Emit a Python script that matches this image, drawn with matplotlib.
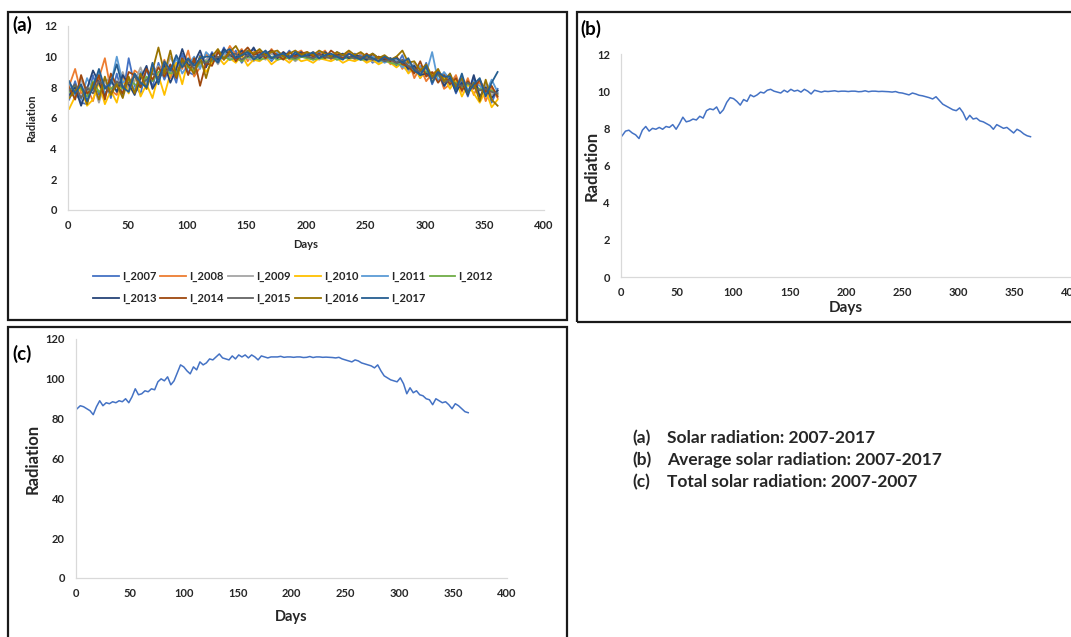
import matplotlib
matplotlib.use("Agg")
import matplotlib.pyplot as plt
from matplotlib.patches import Rectangle

plt.rcParams['font.family'] = ['Lato', 'DejaVu Sans']
plt.rcParams['font.weight'] = 'bold'

# ---------------- data ----------------
days_a = list(range(1, 362, 5))  # 73 points
years = ["I_2007", "I_2008", "I_2009", "I_2010", "I_2011", "I_2012",
         "I_2013", "I_2014", "I_2015", "I_2016", "I_2017"]
colors = ["#4472C4", "#ED7D31", "#A5A5A5", "#FFC000", "#5B9BD5", "#70AD47",
          "#264478", "#9E480E", "#636363", "#997300", "#255E91"]

r2007 = [7.2, 8.4, 7.0, 6.9, 8.8, 7.5, 8.6, 7.3,
         8.9, 7.4, 9.9, 8.1, 7.6, 9.2, 8.0, 9.6,
         8.5, 9.4, 8.3, 10.2, 9.0, 8.8, 10.1, 9.5,
         10.3, 9.7, 10.6, 9.8, 10.4, 9.6, 10.2, 10.5,
         9.8, 10.3, 9.7, 10.2, 9.9, 10.4, 9.8, 10.1,
         10.2, 9.8, 10.3, 10.0, 9.9, 10.3, 10.1, 9.8,
         10.2, 9.9, 10.1, 9.6, 10.0, 9.7, 9.9, 9.4,
         10.1, 9.0, 9.5, 8.6, 9.6, 8.2, 9.1, 8.0,
         8.9, 7.6, 8.5, 7.4, 8.7, 7.2, 8.3, 7.0, 7.9]
r2008 = [8.1, 9.2, 7.6, 8.0, 7.1, 8.6, 9.9, 7.8,
         7.5, 8.7, 8.0, 9.1, 8.8, 7.9, 9.5, 8.7,
         9.8, 8.6, 9.6, 9.2, 10.4, 8.7, 9.3, 10.2,
         9.6, 10.4, 9.9, 10.7, 10.1, 10.5, 9.7, 10.3,
         10.4, 9.9, 10.5, 10.0, 10.3, 9.8, 10.2, 10.4,
         9.9, 10.3, 10.1, 10.4, 9.8, 10.2, 10.0, 10.3,
         9.8, 10.2, 9.7, 10.1, 9.8, 10.0, 9.5, 9.9,
         9.2, 9.8, 8.6, 9.3, 8.4, 8.9, 9.1, 7.9,
         8.2, 8.8, 7.7, 8.6, 7.5, 8.4, 7.1, 8.0, 7.3]
r2009 = [7.9, 7.3, 8.5, 7.7, 8.2, 7.0, 8.3, 8.7,
         8.0, 9.0, 7.8, 8.4, 9.3, 8.2, 8.9, 9.4,
         8.8, 10.0, 9.1, 9.7, 9.3, 9.9, 9.4, 9.8,
         10.1, 9.5, 10.2, 10.0, 9.8, 10.3, 9.9, 9.7,
         10.1, 9.8, 10.2, 9.9, 10.0, 10.1, 9.7, 10.0,
         9.9, 10.1, 9.8, 10.0, 10.1, 9.9, 10.0, 9.9,
         10.0, 9.8, 9.9, 9.7, 9.6, 9.9, 9.7, 9.8,
         9.4, 9.0, 9.6, 8.8, 9.2, 8.5, 8.7, 8.9,
         8.1, 8.6, 7.9, 8.3, 8.0, 7.8, 8.2, 7.5, 7.8]
r2010 = [6.6, 7.4, 8.0, 6.8, 7.2, 8.3, 6.9, 7.8,
         7.0, 8.5, 7.6, 8.9, 7.4, 8.2, 7.3, 8.8,
         7.5, 8.9, 9.6, 8.2, 9.8, 9.1, 9.7, 9.0,
         9.6, 10.0, 9.5, 9.9, 9.6, 10.1, 9.4, 9.8,
         9.7, 10.0, 9.5, 9.8, 9.9, 9.6, 10.0, 9.7,
         9.8, 9.6, 9.9, 9.8, 9.7, 9.9, 9.6, 9.8,
         9.7, 9.9, 9.6, 9.8, 9.5, 9.7, 9.6, 9.3,
         9.6, 8.9, 9.3, 8.6, 9.1, 8.4, 8.8, 8.6,
         7.9, 8.5, 7.4, 8.2, 7.6, 7.0, 7.8, 6.7, 7.2]
r2011 = [8.3, 7.5, 7.2, 8.6, 7.8, 9.0, 7.6, 8.2,
         10.0, 8.3, 8.6, 7.8, 9.0, 8.4, 9.2, 8.5,
         9.3, 9.0, 9.9, 8.9, 9.5, 10.0, 9.2, 10.3,
         9.9, 10.2, 10.4, 9.8, 10.0, 10.2, 10.4, 9.9,
         10.2, 10.0, 9.8, 10.3, 10.1, 9.9, 10.2, 10.0,
         10.1, 9.9, 10.2, 10.0, 10.2, 9.8, 10.1, 10.0,
         9.9, 10.1, 9.8, 10.0, 9.9, 9.6, 9.8, 9.7,
         9.3, 9.6, 9.0, 9.4, 8.9, 10.3, 8.4, 9.0,
         8.5, 8.0, 8.7, 7.8, 8.4, 8.1, 7.6, 8.5, 7.7]
r2012 = [7.7, 8.1, 7.9, 7.4, 8.4, 7.7, 8.0, 7.9,
         8.3, 7.9, 8.5, 8.2, 8.0, 8.7, 8.4, 9.0,
         9.2, 8.9, 9.0, 9.5, 9.3, 9.1, 9.6, 9.7,
         9.7, 9.9, 10.0, 9.8, 9.9, 9.7, 10.0, 9.9,
         9.8, 9.9, 10.0, 9.8, 9.9, 9.9, 9.8, 10.0,
         9.9, 9.8, 9.9, 9.9, 10.0, 9.8, 9.9, 9.9,
         9.9, 9.8, 9.8, 9.9, 9.7, 9.8, 9.6, 9.5,
         9.5, 9.3, 9.0, 9.1, 9.0, 8.7, 8.8, 8.5,
         8.4, 8.3, 8.0, 8.2, 8.1, 7.9, 7.8, 7.8, 7.5]
r2013 = [7.5, 8.0, 6.8, 7.9, 9.1, 8.3, 7.4, 8.5,
         7.7, 8.8, 8.2, 7.5, 8.6, 9.4, 7.9, 8.6,
         9.5, 8.3, 9.2, 10.5, 9.4, 9.6, 10.4, 9.3,
         10.2, 9.8, 10.5, 10.1, 9.9, 10.4, 10.0, 10.6,
         9.9, 10.2, 10.4, 9.9, 10.3, 10.0, 10.1, 10.3,
         10.0, 10.2, 9.9, 10.3, 10.0, 10.1, 10.2, 9.9,
         10.1, 10.0, 9.8, 10.2, 9.9, 9.8, 9.9, 9.6,
         9.7, 9.2, 9.4, 8.8, 8.9, 8.6, 9.0, 8.1,
         8.6, 7.7, 8.3, 7.5, 8.8, 7.4, 8.0, 7.3, 7.8]
r2014 = [8.0, 7.2, 8.8, 7.6, 7.9, 8.8, 7.2, 8.9,
         8.1, 7.6, 9.0, 8.8, 8.0, 9.2, 8.5, 9.3,
         8.7, 9.5, 8.6, 9.9, 8.8, 9.9, 8.1, 9.6,
         9.4, 10.3, 9.8, 10.4, 9.7, 10.2, 10.6, 10.1,
         10.3, 9.9, 10.4, 10.1, 9.8, 10.3, 10.0, 10.2,
         10.3, 10.0, 10.2, 9.9, 10.4, 10.1, 9.9, 10.2,
         10.0, 9.9, 10.2, 9.8, 10.0, 9.9, 9.7, 10.0,
         9.5, 9.4, 8.9, 9.7, 8.7, 9.0, 8.3, 8.8,
         8.2, 8.6, 7.8, 8.4, 7.9, 8.5, 7.7, 8.1, 7.4]
r2015 = [7.8, 8.2, 7.3, 8.0, 7.6, 8.4, 8.1, 7.6,
         8.4, 8.0, 8.3, 8.7, 8.2, 8.5, 8.9, 8.6,
         9.0, 9.2, 8.8, 9.6, 9.8, 9.2, 9.7, 9.6,
         9.8, 10.0, 9.9, 10.1, 10.2, 9.8, 10.1, 10.0,
         10.0, 10.1, 9.9, 10.0, 10.1, 10.0, 9.9, 10.1,
         10.0, 9.9, 10.1, 10.0, 9.9, 10.0, 10.1, 10.0,
         9.9, 10.0, 9.9, 9.8, 9.9, 9.7, 9.8, 9.6,
         9.8, 9.4, 9.2, 9.0, 9.3, 8.6, 8.9, 8.3,
         8.5, 8.2, 8.1, 8.3, 8.0, 7.8, 7.9, 7.7, 7.6]
r2016 = [7.3, 7.8, 8.1, 6.9, 8.3, 7.2, 8.7, 7.5,
         8.2, 7.3, 8.7, 7.6, 8.9, 7.9, 9.1, 10.6,
         8.9, 10.4, 8.7, 9.8, 9.4, 8.9, 10.0, 8.6,
         10.0, 10.5, 9.8, 10.3, 10.7, 10.0, 10.4, 10.2,
         10.5, 10.1, 10.3, 10.4, 10.0, 10.2, 10.4, 10.1,
         10.3, 10.1, 10.4, 10.2, 10.0, 10.3, 10.1, 10.4,
         10.1, 10.3, 10.0, 10.2, 9.9, 10.1, 9.8, 10.0,
         10.4, 9.6, 9.7, 9.1, 9.5, 8.7, 9.2, 8.4,
         8.9, 8.0, 8.6, 7.6, 8.3, 7.1, 8.5, 7.2, 6.8]
r2017 = [8.4, 7.6, 8.2, 7.1, 8.0, 9.2, 7.9, 8.3,
         9.5, 8.0, 7.7, 8.9, 8.3, 8.0, 9.6, 8.2,
         9.7, 9.1, 10.1, 9.3, 9.9, 9.4, 9.9, 10.0,
         10.0, 9.6, 10.3, 10.5, 9.9, 10.1, 10.3, 9.8,
         10.1, 10.4, 9.9, 10.1, 10.2, 9.9, 10.3, 10.0,
         10.1, 10.3, 9.9, 10.1, 10.2, 10.0, 9.8, 10.2,
         10.0, 9.8, 10.1, 9.9, 9.7, 10.0, 9.8, 9.9,
         9.6, 9.9, 9.1, 8.8, 9.4, 8.3, 9.0, 8.7,
         8.7, 7.8, 8.9, 7.6, 8.2, 8.6, 7.4, 8.3, 9.0]
series_a = [r2007, r2008, r2009, r2010, r2011, r2012,
            r2013, r2014, r2015, r2016, r2017]

days_bc = list(range(1, 365, 3))  # 122 points
avg_rad = [7.60, 7.85, 7.90, 7.75, 7.65, 7.45, 7.90, 8.10, 7.85, 8.00,
           7.95, 8.05, 7.95, 8.10, 8.05, 8.20, 7.95, 8.25, 8.60, 8.35,
           8.40, 8.50, 8.45, 8.65, 8.55, 8.95, 9.05, 9.00, 9.15, 8.80,
           9.00, 9.40, 9.65, 9.60, 9.45, 9.25, 9.55, 9.45, 9.80, 9.70,
           9.80, 9.95, 9.90, 10.05, 10.10, 10.00, 9.95, 9.90, 10.05, 9.95,
           10.10, 10.00, 10.05, 9.95, 10.10, 10.00, 9.85, 10.05, 10.00, 9.95,
           10.00, 9.98, 10.00, 10.02, 9.98, 10.00, 10.00, 9.98, 10.00, 10.00,
           9.97, 9.98, 10.02, 9.97, 10.00, 10.00, 9.98, 9.99, 9.98, 9.97,
           9.95, 9.98, 9.92, 9.90, 9.85, 9.80, 9.90, 9.85, 9.78, 9.75,
           9.70, 9.65, 9.58, 9.70, 9.50, 9.30, 9.20, 9.10, 9.00, 8.95,
           9.10, 8.85, 8.45, 8.70, 8.50, 8.55, 8.40, 8.35, 8.25, 8.15,
           7.95, 8.20, 8.10, 8.00, 8.05, 7.90, 7.75, 7.95, 7.85, 7.70,
           7.60, 7.55]
tot_rad = [85, 86.5, 86, 85, 84, 82, 86, 89, 86.5, 88,
           87.5, 88.5, 88, 89, 88.5, 90, 88, 91, 95, 92,
           92.5, 94, 93.5, 95, 94.5, 98.5, 100, 99, 101, 97,
           99, 103, 107, 106, 104, 102.5, 106, 104.5, 108.5, 107,
           108, 110, 109.5, 111, 112.5, 110.5, 110, 109.5, 111.5, 110,
           112, 111, 112, 110.5, 112, 111, 109.5, 111.5, 111, 110.5,
           111, 111, 111, 111.3, 110.8, 111, 111, 110.8, 111, 111,
           110.7, 110.8, 111.2, 110.7, 111, 111, 110.8, 110.9, 110.8, 110.7,
           110.5, 110.8, 110, 109.5, 109, 108.5, 109.5, 109, 108, 107.5,
           107, 106.5, 105.5, 107, 104, 101.5, 100.5, 99.5, 99, 98.5,
           100.5, 97.5, 92.5, 95.5, 93, 94, 92, 91.5, 90, 89.5,
           87, 90, 89, 88, 88.5, 87, 85, 87.5, 86.5, 85,
           83.5, 83]

summary_tags = ["(a)", "(b)", "(c)"]
summary_text = ["Solar radiation: 2007-2017",
                "Average solar radiation: 2007-2017",
                "Total solar radiation: 2007-2007"]

# ---------------- layout helpers ----------------
W, H = 1071, 637
TXT = "#262626"
fig = plt.figure(figsize=(W / 100, H / 100), dpi=100)


def axes_px(left, top, right, bottom):
    return fig.add_axes([left / W, 1 - bottom / H, (right - left) / W, (bottom - top) / H])


def box_px(left, top, right, bottom):
    fig.patches.append(Rectangle((left / W, 1 - bottom / H), (right - left) / W,
                                 (bottom - top) / H, transform=fig.transFigure,
                                 fill=False, edgecolor="#1a1a1a", linewidth=1.6))


def style(ax, fs, box, xlab_px, ylab_px, xfs, yfs):
    left, top, right, bottom = box
    for s in ["top", "right"]:
        ax.spines[s].set_visible(False)
    for s in ["left", "bottom"]:
        ax.spines[s].set_color("#D9D9D9")
        ax.spines[s].set_linewidth(0.9)
    ax.tick_params(axis="x", length=0, labelsize=fs, colors=TXT, pad=7)
    ax.tick_params(axis="y", length=0, labelsize=fs, colors=TXT, pad=8)
    ax.set_xlabel("Days", fontsize=xfs, fontweight="bold", color=TXT, va="center")
    ax.set_ylabel("Radiation", fontsize=yfs, fontweight="bold", color=TXT, va="center")
    ax.xaxis.set_label_coords(0.5, (bottom - xlab_px) / (bottom - top))
    ax.yaxis.set_label_coords((ylab_px - left) / (right - left), 0.5)


box_px(8, 12, 567, 320)
box_px(577, 12, 1075, 322)
box_px(8, 327, 567, 642)

# ---------------- panel (a) ----------------
box_a = (68, 26, 544, 210)
ax_a = axes_px(*box_a)
handles = []
for vals, c, lab in zip(series_a, colors, years):
    h, = ax_a.plot(days_a, vals, color=c, lw=1.3, label=lab)
    handles.append(h)
ax_a.set_xlim(0, 400)
ax_a.set_ylim(0, 12)
ax_a.set_xticks(range(0, 401, 50))
ax_a.set_yticks(range(0, 13, 2))
style(ax_a, 8, box_a, 245, 32, 8, 8)
order = [0, 6, 1, 7, 2, 8, 3, 9, 4, 10, 5]
leg = fig.legend([handles[i] for i in order], [years[i] for i in order],
                 ncol=6, loc="upper left", bbox_to_anchor=(93 / W, 1 - 271 / H),
                 frameon=False, fontsize=8, handlelength=2.3, handletextpad=0.3,
                 columnspacing=0.35, labelspacing=1.0, borderpad=0, borderaxespad=0)
for t in leg.get_texts():
    t.set_color(TXT)
fig.text(12 / W, 1 - 25 / H, "(a)", fontsize=13.5, fontweight="bold", va="center", ha="left")

# ---------------- panel (b) ----------------
box_b = (621, 54, 1071, 277)
ax_b = axes_px(*box_b)
ax_b.plot(days_bc, avg_rad, color="#4472C4", lw=1.1)
ax_b.set_xlim(0, 400)
ax_b.set_ylim(0, 12)
ax_b.set_xticks(range(0, 401, 50))
ax_b.set_yticks(range(0, 13, 2))
style(ax_b, 8, box_b, 308, 592, 11, 12)
fig.text(580 / W, 1 - 29 / H, "(b)", fontsize=13.5, fontweight="bold", va="center", ha="left")

# ---------------- panel (c) ----------------
box_c = (76, 339, 507, 578)
ax_c = axes_px(*box_c)
ax_c.plot(days_bc, tot_rad, color="#4472C4", lw=1.1)
ax_c.set_xlim(0, 400)
ax_c.set_ylim(0, 120)
ax_c.set_xticks(range(0, 401, 50))
ax_c.set_yticks(range(0, 121, 20))
style(ax_c, 8, box_c, 617, 33, 10.5, 12)
fig.text(12 / W, 1 - 354 / H, "(c)", fontsize=13.5, fontweight="bold", va="center", ha="left")

# ---------------- summary text ----------------
for i, (tag, txt) in enumerate(zip(summary_tags, summary_text)):
    y = 1 - (438 + i * 22) / H
    fig.text(632 / W, y, tag, fontsize=12.5, fontweight="bold", color=TXT, va="center")
    fig.text(667 / W, y, txt, fontsize=12.5, fontweight="bold", color=TXT, va="center")

fig.savefig("out.png", dpi=100)
